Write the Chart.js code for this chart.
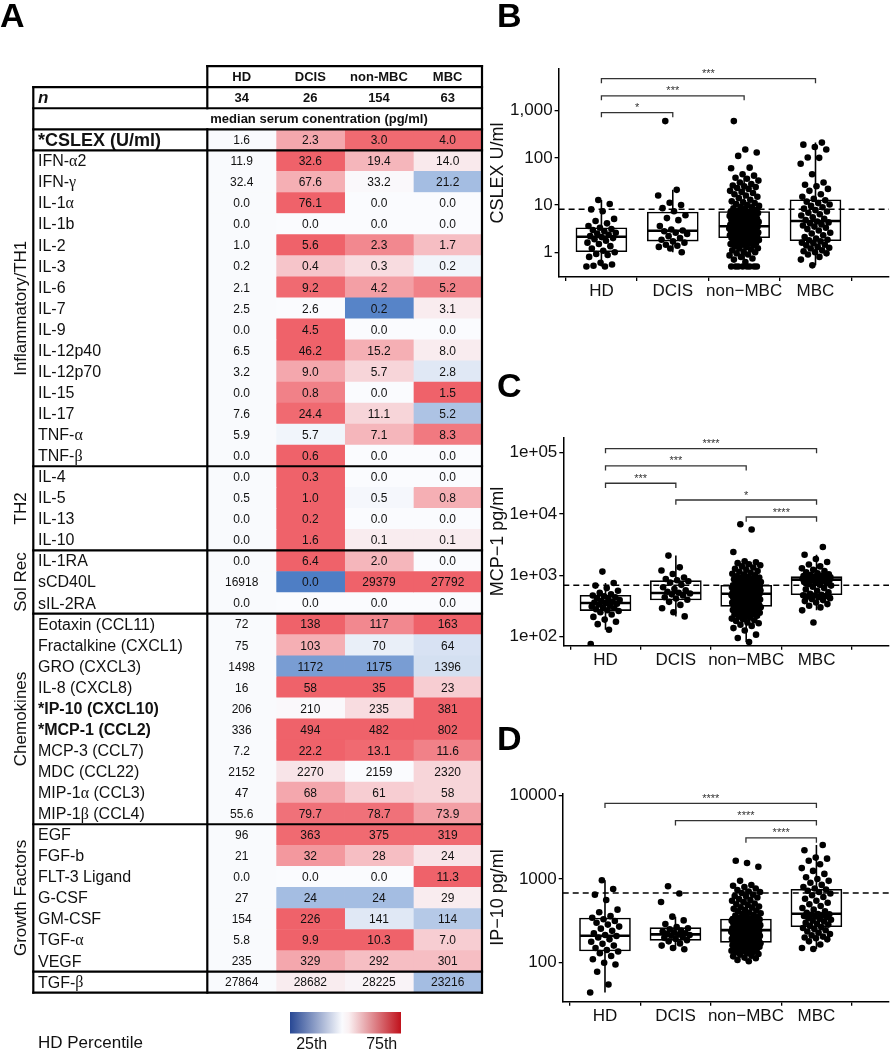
<!DOCTYPE html>
<html>
<head>
<meta charset="utf-8">
<script src="https://cdn.jsdelivr.net/npm/chart.js@4.4.1/dist/chart.umd.min.js"></script>
<style>
  html, body { margin: 0; padding: 0; background: #fff; }
  #wrap { position: relative; width: 893px; height: 1050px; overflow: hidden; font-family: "Liberation Sans", Arial, sans-serif; }
  #wrap canvas { position: absolute; }
  .panel { position: absolute; font-weight: bold; font-size: 34px; line-height: 34px; color: #000; }
</style>
</head>
<body>
<div id="wrap">
  <canvas id="tbl" width="490" height="1050" style="left:0;top:0"></canvas>
  <canvas id="chartB" width="408" height="340" style="left:485px;top:0"></canvas>
  <canvas id="chartC" width="408" height="350" style="left:485px;top:340px"></canvas>
  <canvas id="chartD" width="408" height="360" style="left:485px;top:690px"></canvas>
  <div class="panel" style="left:0;top:-2px">A</div>
  <div class="panel" style="left:497px;top:-2px">B</div>
  <div class="panel" style="left:497px;top:368px">C</div>
  <div class="panel" style="left:497px;top:721px">D</div>
</div>
<script>
"use strict";

const FONT = "'Liberation Sans', Arial, Helvetica, sans-serif";
const GREEK_FONT = "'Liberation Serif', 'DejaVu Serif', serif";
Chart.defaults.font.family = FONT;
Chart.defaults.color = "#111";

// ---- table (panel A) ----
const colNames = ["HD", "DCIS", "non-MBC", "MBC"];
const colN = [34, 26, 154, 63];
const unitText = "median serum conentration (pg/ml)";

const rowLabels = ["*CSLEX (U/ml)", "IFN-α2", "IFN-γ", "IL-1α", "IL-1b", "IL-2", "IL-3", "IL-6", "IL-7", "IL-9",
  "IL-12p40", "IL-12p70", "IL-15", "IL-17", "TNF-α", "TNF-β", "IL-4", "IL-5", "IL-13", "IL-10",
  "IL-1RA", "sCD40L", "sIL-2RA", "Eotaxin (CCL11)", "Fractalkine (CXCL1)", "GRO (CXCL3)", "IL-8 (CXCL8)",
  "*IP-10 (CXCL10)", "*MCP-1 (CCL2)", "MCP-3 (CCL7)", "MDC (CCL22)", "MIP-1α (CCL3)", "MIP-1β (CCL4)",
  "EGF", "FGF-b", "FLT-3 Ligand", "G-CSF", "GM-CSF", "TGF-α", "VEGF", "TGF-β"];
const boldRows = ["*CSLEX (U/ml)", "*IP-10 (CXCL10)", "*MCP-1 (CCL2)"];

const rowGroups = [
  { name: "Inflammatory/TH1", from: 1, to: 15 },
  { name: "TH2", from: 16, to: 19 },
  { name: "Sol Rec", from: 20, to: 22 },
  { name: "Chemokines", from: 23, to: 32 },
  { name: "Growth Factors", from: 33, to: 39 }
];
const groupEnds = [0, 15, 19, 22, 32, 39, 40];

const hdValues = ["1.6", "11.9", "32.4", "0.0", "0.0", "1.0", "0.2", "2.1", "2.5", "0.0", "6.5", "3.2", "0.0", "7.6", "5.9", "0.0",
  "0.0", "0.5", "0.0", "0.0", "0.0", "16918", "0.0", "72", "75", "1498", "16", "206", "336", "7.2", "2152", "47", "55.6",
  "96", "21", "0.0", "27", "154", "5.8", "235", "27864"];
const dcisValues = ["2.3", "32.6", "67.6", "76.1", "0.0", "5.6", "0.4", "9.2", "2.6", "4.5", "46.2", "9.0", "0.8", "24.4", "5.7", "0.6",
  "0.3", "1.0", "0.2", "1.6", "6.4", "0.0", "0.0", "138", "103", "1172", "58", "210", "494", "22.2", "2270", "68", "79.7",
  "363", "32", "0.0", "24", "226", "9.9", "329", "28682"];
const nonValues = ["3.0", "19.4", "33.2", "0.0", "0.0", "2.3", "0.3", "4.2", "0.2", "0.0", "15.2", "5.7", "0.0", "11.1", "7.1", "0.0",
  "0.0", "0.5", "0.0", "0.1", "2.0", "29379", "0.0", "117", "70", "1175", "35", "235", "482", "13.1", "2159", "61", "78.7",
  "375", "28", "0.0", "24", "141", "10.3", "292", "28225"];
const mbcValues = ["4.0", "14.0", "21.2", "0.0", "0.0", "1.7", "0.2", "5.2", "3.1", "0.0", "8.0", "2.8", "1.5", "5.2", "8.3", "0.0",
  "0.0", "0.8", "0.0", "0.1", "0.0", "27792", "0.0", "163", "64", "1396", "23", "381", "802", "11.6", "2320", "58", "73.9",
  "319", "24", "11.3", "29", "114", "7.0", "301", "23216"];

// colour strength read from the cells: +1 = full red (above HD 75th), -1 = full blue (below 25th)
const dcisHeat = [0.55, 1, 0.5, 1, 0, 1, 0.35, 0.95, 0, 1, 1, 0.55, 0.8, 0.95, -0.05, 1,
  1, 1, 1, 1, 1, -1, 0, 1, 0.5, -0.75, 1, 0.02, 1, 1, 0.15, 0.55, 0.9,
  0.95, 0.65, 0, -0.5, 1, 1, 0.55, 0.1];
const nonHeat = [0.95, 0.45, 0.02, 0, 0, 0.75, 0.2, 0.6, -0.95, 0, 0.5, 0.25, 0, 0.25, 0.45, 0,
  0, -0.03, 0, 0.1, 0.45, 1, 0, 0.75, -0.1, -0.75, 1, 0.2, 1, 0.95, 0, 0.3, 0.9,
  0.95, 0.4, 0, -0.5, -0.15, 1, 0.4, 0.05];
const mbcHeat = [0.95, 0.12, -0.5, 0, 0, 0.4, -0.05, 0.8, 0.1, 0, 0.1, -0.15, 1, -0.45, 0.85, 0,
  0, 0.5, 0, 0.1, 0, 1, 0, 1, -0.2, -0.22, 0.3, 1, 1, 0.8, 0.25, 0.25, 0.6,
  0.95, 0.15, 1, 0.1, -0.4, 0.3, 0.4, -0.5];

// ---- panel B: CSLEX ----
const groupNames = ["HD", "DCIS", "non−MBC", "MBC"];

const cslexHD = [0.5, 0.5, 0.52, 0.55, 0.6, 0.8, 0.88, 0.92, 1.0, 1.08, 1.2, 1.35, 1.5, 1.6, 1.75, 1.9, 2.0, 2.1, 2.2, 2.35,
  2.5, 2.6, 2.8, 2.95, 3.1, 3.3, 3.6, 4.1, 4.6, 5.1, 7.4, 8.1, 10.5, 12.8];
const cslexDCIS = [1.0, 1.2, 1.3, 1.38, 1.45, 1.6, 1.7, 1.85, 2.0, 2.2, 2.45, 2.6, 2.8, 2.9, 3.05, 3.6, 4.8, 5.3, 6.1, 7.4,
  8.6, 10, 11.2, 16, 21, 600];
const cslexNon = [0.5, 0.5, 0.5, 0.5, 0.5, 0.5, 0.5, 0.5, 0.62, 0.7, 0.74, 0.8, 0.86, 0.9, 0.95, 1.0, 1.02, 1.1, 1.15, 1.2,
  1.22, 1.3, 1.33, 1.4, 1.45, 1.5, 1.52, 1.58, 1.6, 1.65, 1.7, 1.75, 1.8, 1.82, 1.86, 1.9, 1.95, 1.98, 2.0,
  2.05, 2.08, 2.1, 2.15, 2.2, 2.22, 2.27, 2.3, 2.35, 2.4, 2.42, 2.48, 2.5, 2.55, 2.6, 2.63, 2.7, 2.72, 2.78, 2.8,
  2.85, 2.9, 2.95, 3.0, 3.02, 3.08, 3.1, 3.15, 3.2, 3.25, 3.3, 3.33, 3.38, 3.4, 3.45, 3.5, 3.52, 3.55,
  3.6, 3.65, 3.7, 3.8, 3.85, 3.9, 4.0, 4.05, 4.15, 4.2, 4.3, 4.4, 4.5, 4.55, 4.65, 4.8, 4.9, 5.0, 5.1, 5.2,
  5.35, 5.5, 5.6, 5.75, 5.9, 6.0, 6.15, 6.3, 6.4, 6.5, 6.6, 6.7, 6.8, 6.9, 7.0, 7.05, 7.1, 7.2, 7.28,
  7.6, 7.9, 8.2, 8.5, 9, 9.2, 9.6, 10, 10.5, 11, 11.5, 12, 13, 14, 15, 16, 17, 18, 19, 20,
  22, 23, 24, 25, 26, 28, 30, 33, 36, 38, 42, 45, 60, 62, 110, 130, 150, 600];
const cslexMBC = [0.53, 0.7, 0.8, 0.9, 0.95, 1.0, 1.05, 1.1, 1.2, 1.25, 1.3, 1.4, 1.45, 1.55, 1.6, 1.7,
  1.8, 1.85, 1.95, 2.1, 2.3, 2.5, 2.6, 2.9, 3.1, 3.3, 3.5, 3.7, 3.9, 4.1, 4.3, 4.5,
  4.8, 5.1, 5.5, 6.0, 6.4, 6.9, 7.3, 7.8, 8.4, 9.0, 9.6, 10.3, 11, 11.8, 12.6,
  13.5, 15, 17, 20, 22, 25, 27, 30, 45, 75, 100, 102, 150, 170, 190, 210];
const cslexQ1 = [1.03, 1.73, 2.03, 1.76];
const cslexMed = [2.13, 2.85, 3.56, 4.6];
const cslexQ3 = [3.3, 7.1, 7.3, 12.9];
const cslexLo = [0.5, 1.0, 0.5, 0.53];
const cslexHi = [12.8, 21, 38.6, 210];
const cslexTicks = [1, 10, 100, 1000];
const cslexTickLabels = ["1", "10", "100", "1,000"];
const cslexCut = 8.2;
const cslexBrackets = [
  { a: 1, b: 2, y: 908, t: "*" },
  { a: 1, b: 3, y: 2060, t: "***" },
  { a: 1, b: 4, y: 4750, t: "***" }
];

// ---- panel C: MCP-1 ----
const mcpHD = [76, 130, 160, 175, 190, 210, 230, 250, 262, 270, 280, 290, 300, 310, 320, 335, 345, 352, 360, 370,
  380, 395, 410, 425, 440, 455, 470, 490, 520, 560, 620, 680, 750, 1150];
const mcpDCIS = [214, 250, 290, 330, 370, 400, 420, 440, 470, 490, 505, 520, 540, 570, 600, 640, 700, 760, 800, 830,
  870, 920, 1050, 1200, 1350, 2100];
const mcpNon = [82, 95, 108, 126, 138, 150, 157, 166, 171, 181, 185, 193, 197, 206, 211, 219, 223, 231, 235, 242,
  246, 253, 256, 263, 266, 272, 274, 280, 282, 288, 290, 295, 296, 301, 302, 307, 308, 311,
  314, 321, 325, 332, 337, 344, 348, 356, 359, 367, 371, 378, 382, 390, 393, 401, 404, 412, 416, 423,
  427, 434, 438, 445, 448, 455, 458, 465, 467, 473, 475, 481, 483, 489, 490, 495, 497, 500, 501,
  506, 509, 517, 520, 528, 531, 539, 542, 550, 554, 561, 565, 572, 576, 583, 587, 594, 597, 605, 608,
  615, 618, 625, 628, 635, 638, 645, 648, 655, 658, 665, 667, 673, 675, 680, 681, 685, 686,
  695, 706, 714, 729, 739, 751, 766, 779, 796, 809, 826, 839, 861, 879, 901, 919, 946, 969, 1002, 1028,
  1062, 1098, 1142, 1178, 1232, 1278, 1342, 1398, 1462, 1518, 1582, 1638, 1700, 2400, 5600, 6800, 748, 832, 902];
const mcpMBC = [170, 269, 300, 320, 340, 360, 380, 395, 410, 425, 440, 450, 460, 468, 475, 482,
  500, 530, 560, 590, 620, 650, 680, 700, 720, 740, 760, 780, 800, 815, 830, 845,
  858, 865, 872, 878, 884, 890, 896, 902, 908, 914, 920, 927, 934, 941, 948,
  960, 975, 990, 1010, 1040, 1080, 1120, 1170, 1230, 1300, 1400, 1500, 1650, 1850, 2170, 2900];
const mcpQ1 = [266, 397, 312, 484];
const mcpMed = [355, 516, 502, 851];
const mcpQ3 = [472, 820, 687, 953];
const mcpLo = [130, 214, 82, 269];
const mcpHi = [750, 2100, 1700, 2170];
const mcpTicks = [100, 1000, 10000, 100000];
const mcpTickLabels = ["1e+02", "1e+03", "1e+04", "1e+05"];
const mcpCut = 687;
const mcpBrackets = [
  { a: 1, b: 4, y: 116000, t: "****" },
  { a: 1, b: 3, y: 60700, t: "***" },
  { a: 1, b: 2, y: 31700, t: "***" },
  { a: 2, b: 4, y: 16900, t: "*" },
  { a: 3, b: 4, y: 8930, t: "****" }
];

// ---- panel D: IP-10 ----
const ipHD = [44, 55, 78, 95, 100, 110, 120, 130, 136, 142, 150, 160, 168, 178, 190, 200, 208, 214, 225, 240,
  255, 270, 285, 300, 315, 330, 345, 360, 400, 430, 560, 650, 760, 966];
const ipDCIS = [145, 150, 160, 170, 180, 186, 192, 198, 204, 210, 214, 217, 220, 225, 230, 236, 242, 250, 258, 266,
  290, 320, 355, 530, 670, 820];
const ipNon = [104, 108, 113, 115, 119, 121, 125, 127, 130, 133, 135, 138, 139, 142, 143, 146, 147, 150, 151, 153,
  155, 157, 158, 160, 161, 162, 164, 165, 166, 167, 168, 169, 170, 171, 172, 173, 174, 175,
  177, 180, 181, 184, 185, 188, 189, 192, 193, 196, 197, 200, 201, 204, 205, 208, 209, 212, 213, 216,
  217, 220, 221, 224, 225, 228, 229, 232, 233, 235, 236, 237, 238, 239, 240, 241, 242, 243, 244,
  247, 251, 253, 257, 259, 263, 265, 269, 271, 275, 277, 281, 283, 287, 289, 293, 295, 299, 301, 305,
  307, 310, 312, 314, 316, 318, 320, 322, 324, 325, 326, 327, 328, 329, 330, 331, 332, 333,
  340, 345, 350, 362, 365, 372, 385, 390, 398, 410, 420, 425, 440, 455, 460, 470, 490, 500, 510, 530,
  550, 560, 575, 600, 620, 625, 650, 680, 700, 710, 740, 770, 800, 830, 847, 950, 1400, 1550, 1650];
const ipMBC = [146, 150, 165, 180, 190, 196, 200, 205, 212, 220, 228, 236, 244, 252, 260, 266,
  275, 285, 292, 300, 310, 318, 326, 334, 342, 350, 356, 362, 368, 373, 378, 382,
  395, 410, 430, 450, 475, 500, 520, 550, 580, 610, 640, 670, 700, 725, 748,
  770, 800, 850, 900, 950, 1000, 1050, 1150, 1250, 1350, 1500, 1650, 1750, 1800, 2200, 2550];
const ipQ1 = [138, 185, 175, 269];
const ipMed = [210, 218, 245, 384];
const ipQ3 = [342, 262, 333, 754];
const ipLo = [44, 145, 104, 146];
const ipHi = [966, 355, 847, 2550];
const ipTicks = [100, 1000, 10000];
const ipTickLabels = ["100", "1000", "10000"];
const ipCut = 681;
const ipBrackets = [
  { a: 1, b: 4, y: 8020, t: "****" },
  { a: 2, b: 4, y: 4980, t: "****" },
  { a: 3, b: 4, y: 3090, t: "****" }
];

// helpers
function heatColor(h) {
  const w = [250, 251, 254], red = [239, 98, 106], blue = [78, 126, 197];
  const c = h >= 0 ? red : blue, t = Math.abs(h);
  return "rgb(" + w.map((v, i) => Math.round(v + (c[i] - v) * t)).join(",") + ")";
}
// spread points sideways (geom_jitter look), deterministic
function jitter(k) { return (((k * 0.6180339887) % 1) - 0.5) * 0.42; }

// draw a label, greek letters in a serif face like the original Symbol glyphs
function drawLabel(ctx, text, x, y, style) {
  const parts = text.split(/([α-ω])/).filter(p => p.length);
  let cx = x;
  parts.forEach(p => {
    const greek = /^[α-ω]$/.test(p);
    ctx.font = greek ? style.replace(/px .*$/, "px ") + GREEK_FONT : style;
    ctx.fillText(p, cx, y);
    cx += ctx.measureText(p).width;
  });
}

// Table: cells are stacked horizontal bars, text drawn by plugin
(function () {
  const hdColor = "rgb(249,250,253)";
  const colVals = [hdValues, dcisValues, nonValues, mbcValues];
  const colHeat = [null, dcisHeat, nonHeat, mbcHeat];

  const tablePlugin = {
    id: "tableText",
    afterDraw(chart) {
      const { ctx, chartArea: a, scales: { x, y } } = chart;
      const rh = (a.bottom - a.top) / rowLabels.length;
      const x0 = 33.3;
      const hTop = a.top - 3 * rh;
      ctx.save();
      ctx.fillStyle = "#111";
      ctx.textBaseline = "middle";
      ctx.textAlign = "center";

      ctx.font = "12px " + FONT;
      colVals.forEach((vals, ci) => {
        chart.getDatasetMeta(ci).data.forEach((bar, ri) => {
          ctx.fillText(vals[ri], (bar.x + bar.base) / 2, bar.y + 1);
        });
      });

      ctx.font = "bold 13px " + FONT;
      colNames.forEach((g, i) => {
        const cx = x.getPixelForValue(i + 0.5);
        ctx.fillText(g, cx, a.top - 2.5 * rh + 1);
        ctx.fillText(String(colN[i]), cx, a.top - 1.5 * rh + 1);
      });
      ctx.textAlign = "left";
      ctx.fillText(unitText, a.left + 3, a.top - 0.5 * rh + 1);
      ctx.font = "italic bold 17px " + FONT;
      ctx.fillText("n", 38, a.top - 1.5 * rh + 1);

      rowLabels.forEach((lab, ri) => {
        const cy = y.getPixelForValue(ri);
        const style = (ri === 0 ? "bold 18px " : boldRows.includes(lab) ? "bold 16px " : "16px ") + FONT;
        drawLabel(ctx, lab, 38, cy + 1, style);
      });

      ctx.font = "17px " + FONT;
      ctx.textAlign = "center";
      rowGroups.forEach(g => {
        const cy = a.top + (g.from + g.to + 1) / 2 * rh;
        ctx.save();
        ctx.translate(21, cy);
        ctx.rotate(-Math.PI / 2);
        ctx.fillText(g.name, 0, 0);
        ctx.restore();
      });

      // borders
      ctx.strokeStyle = "#000";
      ctx.lineWidth = 2.2;
      ctx.lineCap = "square";
      const line = (xa, ya, xb, yb) => { ctx.beginPath(); ctx.moveTo(xa, ya); ctx.lineTo(xb, yb); ctx.stroke(); };
      line(a.left, hTop, a.right, hTop);
      line(x0, a.top - 2 * rh, a.right, a.top - 2 * rh);
      line(x0, a.top - rh, a.right, a.top - rh);
      line(x0, a.top, a.right, a.top);
      groupEnds.forEach(k => line(x0, a.top + (k + 1) * rh, a.right, a.top + (k + 1) * rh));
      line(x0, a.top - 2 * rh, x0, a.bottom);
      line(a.left, hTop, a.left, a.top - rh);
      line(a.left, a.top, a.left, a.bottom);
      line(a.right, hTop, a.right, a.bottom);

      // colour key
      const gx = 290, gy = 1012, gw = 111, gh = 21.5;
      const grad = ctx.createLinearGradient(gx, 0, gx + gw, 0);
      grad.addColorStop(0, "rgb(40,72,148)");
      grad.addColorStop(0.47, "rgb(250,251,254)");
      grad.addColorStop(0.53, "rgb(250,240,242)");
      grad.addColorStop(1, "rgb(192,18,28)");
      ctx.fillStyle = grad;
      ctx.fillRect(gx, gy, gw, gh);
      ctx.fillStyle = "#111";
      ctx.font = "16px " + FONT;
      ctx.fillText("25th", 311.7, 1045);
      ctx.fillText("75th", 381.7, 1045);
      ctx.textAlign = "left";
      ctx.font = "17px " + FONT;
      ctx.fillText("HD Percentile", 38, 1043);
      ctx.restore();
    }
  };

  new Chart(document.getElementById("tbl"), {
    type: "bar",
    data: {
      labels: rowLabels,
      datasets: colNames.map((name, ci) => ({
        label: name,
        data: rowLabels.map(() => 1),
        backgroundColor: ci === 0 ? hdColor : colHeat[ci].map(heatColor),
        borderWidth: 0,
        barPercentage: 1,
        categoryPercentage: 1,
        stack: "cells"
      }))
    },
    options: {
      indexAxis: "y",
      responsive: false,
      animation: false,
      layout: { padding: { left: 207.3, right: 8, top: 129.3, bottom: 57.3 } },
      plugins: { legend: { display: false }, tooltip: { enabled: false } },
      scales: {
        x: { stacked: true, min: 0, max: 4, display: false },
        y: { stacked: true, display: false }
      }
    },
    plugins: [tablePlugin]
  });
})();

// Box plots with jittered points
function boxPlot(id, o) {
  const pts = [];
  o.points.forEach((vals, gi) => vals.forEach((v, k) => pts.push({ x: gi + 1 + jitter(k + gi * 11), y: v })));
  const boxes = o.q1.map((q, i) => ({ x: i + 1, y: [q, o.q3[i]] }));
  const whisk = [];
  o.q1.forEach((q, i) => {
    const g = i + 1;
    whisk.push({ x: g, y: o.lo[i] }, { x: g, y: q }, { x: g, y: null },
      { x: g, y: o.q3[i] }, { x: g, y: o.hi[i] }, { x: g, y: null });
  });
  const meds = [];
  o.med.forEach((m, i) => meds.push({ x: i + 1 - 0.353, y: m }, { x: i + 1 + 0.353, y: m }, { x: i + 1, y: null }));
  const br = [];
  o.brackets.forEach(b => br.push({ x: b.a, y: b.y / o.tip }, { x: b.a, y: b.y }, { x: b.b, y: b.y },
    { x: b.b, y: b.y / o.tip }, { x: b.b, y: null }));
  const xMax = 5.03;

  const starPlugin = {
    id: "stars",
    afterDatasetsDraw(chart) {
      const { ctx, scales: { x, y } } = chart;
      ctx.save();
      ctx.fillStyle = "#333";
      ctx.font = "11px " + FONT;
      ctx.textAlign = "center";
      ctx.textBaseline = "alphabetic";
      o.brackets.forEach(b => {
        ctx.fillText(b.t, x.getPixelForValue((b.a + b.b) / 2), y.getPixelForValue(b.y) - 1.5);
      });
      ctx.restore();
    }
  };

  new Chart(document.getElementById(id), {
    type: "scatter",
    data: {
      datasets: [
        { type: "scatter", data: pts, pointRadius: 3.3, pointBorderWidth: 0, backgroundColor: "#000", order: 0 },
        { type: "line", data: [{ x: 0.4, y: o.cut }, { x: xMax, y: o.cut }], borderColor: "#000", borderWidth: 1.5,
          borderDash: [6, 4], pointRadius: 0, order: 1 },
        { type: "line", data: br, borderColor: "#333", borderWidth: 1.3, pointRadius: 0, spanGaps: false, order: 1 },
        { type: "line", data: meds, borderColor: "#000", borderWidth: 2.6, pointRadius: 0, spanGaps: false, order: 2 },
        { type: "bar", data: boxes, backgroundColor: "#fff", borderColor: "#000", borderWidth: 1.6,
          borderSkipped: false, barThickness: 51, order: 3 },
        { type: "line", data: whisk, borderColor: "#000", borderWidth: 1.6, pointRadius: 0, spanGaps: false, order: 4 }
      ]
    },
    options: {
      responsive: false,
      animation: false,
      layout: { padding: { left: 0, right: 0, top: o.top, bottom: 0 } },
      plugins: { legend: { display: false }, tooltip: { enabled: false } },
      scales: {
        x: {
          type: "linear", min: 0.4, max: xMax, offset: false,
          afterBuildTicks: s => { s.ticks = groupNames.map((_, i) => ({ value: i + 1 })); },
          afterFit: s => { s.height = o.xh; },
          ticks: { callback: (v, i) => groupNames[i], font: { size: 17 }, color: "#111", padding: 0, maxRotation: 0, autoSkip: false },
          grid: { drawOnChartArea: false, drawTicks: true, tickLength: 4, color: "#000", lineWidth: 1.3 },
          border: { display: true, color: "#000", width: 1.5 }
        },
        y: {
          type: "logarithmic", min: o.ymin, max: o.ymax,
          afterBuildTicks: s => { s.ticks = o.ticks.map(v => ({ value: v })); },
          afterFit: s => { s.width = o.yw; },
          ticks: { callback: (v, i) => o.tickLabels[i], font: { size: 17 }, color: "#111", padding: 2 },
          grid: { drawOnChartArea: false, drawTicks: true, tickLength: 4, color: "#000", lineWidth: 1.3 },
          border: { display: true, color: "#000", width: 1.5 },
          title: { display: true, text: o.title, font: { size: 18 }, color: "#111", padding: { top: 2, bottom: 0 } }
        }
      }
    },
    plugins: [starPlugin]
  });
}

boxPlot("chartB", {
  points: [cslexHD, cslexDCIS, cslexNon, cslexMBC],
  q1: cslexQ1, med: cslexMed, q3: cslexQ3, lo: cslexLo, hi: cslexHi,
  ticks: cslexTicks, tickLabels: cslexTickLabels, cut: cslexCut, brackets: cslexBrackets, tip: 1.25,
  ymin: 0.33, ymax: 7600, title: "CSLEX U/ml", top: 69, yw: 73.6, xh: 63
});
boxPlot("chartC", {
  points: [mcpHD, mcpDCIS, mcpNon, mcpMBC],
  q1: mcpQ1, med: mcpMed, q3: mcpQ3, lo: mcpLo, hi: mcpHi,
  ticks: mcpTicks, tickLabels: mcpTickLabels, cut: mcpCut, brackets: mcpBrackets, tip: 1.19,
  ymin: 71.3, ymax: 178000, title: "MCP−1 pg/ml", top: 97.3, yw: 78.3, xh: 44.3
});
boxPlot("chartD", {
  points: [ipHD, ipDCIS, ipNon, ipMBC],
  q1: ipQ1, med: ipMed, q3: ipQ3, lo: ipLo, hi: ipHi,
  ticks: ipTicks, tickLabels: ipTickLabels, cut: ipCut, brackets: ipBrackets, tip: 1.14,
  ymin: 34.2, ymax: 10560, title: "IP−10 pg/ml", top: 103.3, yw: 77.7, xh: 48.3
});
</script>
</body>
</html>
